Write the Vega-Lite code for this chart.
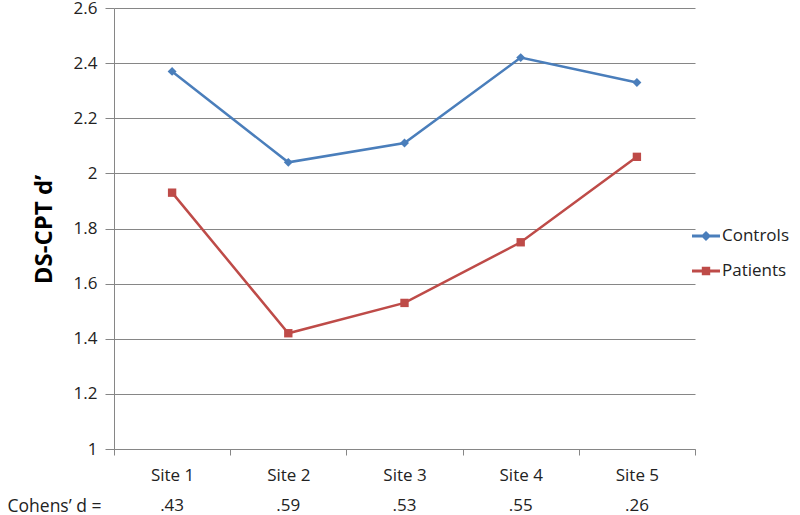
{
  "$schema": "https://vega.github.io/schema/vega-lite/v6.json",
  "autosize": {"type": "none"},
  "width": 581,
  "height": 441,
  "padding": {"left": 114, "top": 8, "right": 105, "bottom": 66},
  "background": "white",
  "config": {"view": {"stroke": null}, "font": "Open Sans"},
  "data": {"values": [
    {"site": "Site 1", "group": "Controls", "v": 2.37, "d": ".43"},
    {"site": "Site 2", "group": "Controls", "v": 2.04, "d": ".59"},
    {"site": "Site 3", "group": "Controls", "v": 2.11, "d": ".53"},
    {"site": "Site 4", "group": "Controls", "v": 2.42, "d": ".55"},
    {"site": "Site 5", "group": "Controls", "v": 2.33, "d": ".26"},
    {"site": "Site 1", "group": "Patients", "v": 1.93, "d": ".43"},
    {"site": "Site 2", "group": "Patients", "v": 1.42, "d": ".59"},
    {"site": "Site 3", "group": "Patients", "v": 1.53, "d": ".53"},
    {"site": "Site 4", "group": "Patients", "v": 1.75, "d": ".55"},
    {"site": "Site 5", "group": "Patients", "v": 2.06, "d": ".26"}
  ]},
  "encoding": {
    "x": {"field": "site", "type": "nominal", "scale": {"type": "band", "paddingInner": 0, "paddingOuter": 0},
      "axis": {"title": "Cohens\u2019 d =", "titleX": -60, "titleY": 57, "titleAlign": "center", "titleBaseline": "middle", "titleAnchor": null,
        "titleFont": "Open Sans", "titleFontSize": 17.5, "titleFontWeight": "normal", "titleColor": "#222",
        "labelAngle": 0, "labelFontSize": 17, "labelColor": "#222", "labelPadding": 12, "tickBand": "extent", "tickSize": 6,
        "tickColor": "#868686", "domainColor": "#868686", "grid": false}}
  },
  "layer": [
    {
      "mark": {"type": "line", "strokeWidth": 2.5},
      "encoding": {
        "y": {"field": "v", "type": "quantitative", "scale": {"domain": [1, 2.6], "nice": false, "zero": false},
          "axis": {"values": [1, 1.2, 1.4, 1.6, 1.8, 2, 2.2, 2.4, 2.6], "format": "~g", "title": "DS-CPT d\u2019",
            "titleFontSize": 24, "titleFontWeight": "bold", "titleColor": "#000", "titleAngle": -90, "titleX": -70, "titleY": 221,
            "titleAlign": "center", "titleBaseline": "middle",
            "labelFontSize": 17, "labelColor": "#222", "labelPadding": 8, "tickSize": 9, "tickColor": "#868686",
            "domainColor": "#868686", "gridColor": "#868686", "gridWidth": 1}},
        "color": {"field": "group", "type": "nominal", "scale": {"domain": ["Controls", "Patients"], "range": ["#4A7EBB", "#BE4B48"]},
          "legend": {"title": null, "orient": "none", "legendX": 578, "legendY": 214, "labelFontSize": 17, "labelColor": "#222",
            "symbolSize": 784, "rowPadding": 13, "labelOffset": 2, "padding": 0,
            "encode": {"symbols": {"update": {
              "shape": {"signal": "datum.value === 'Controls' ? 'M-1,-0.1H1V0.1H-1ZM-0.36,0L0,-0.36L0.36,0L0,0.36Z' : 'M-1,-0.1H1V0.1H-1ZM-0.3,-0.3H0.3V0.3H-0.3Z'"},
              "size": {"value": 784},
              "fill": {"signal": "datum.value === 'Controls' ? '#4A7EBB' : '#BE4B48'"},
              "stroke": {"value": "transparent"},
              "strokeWidth": {"value": 0}}}}}}
      }
    },
    {
      "transform": [{"filter": "datum.group === 'Controls'"}],
      "mark": {"type": "point", "filled": true, "opacity": 1, "shape": "diamond", "size": 80},
      "encoding": {
        "y": {"field": "v", "type": "quantitative"},
        "color": {"field": "group", "type": "nominal"}
      }
    },
    {
      "transform": [{"filter": "datum.group === 'Patients'"}],
      "mark": {"type": "point", "filled": true, "opacity": 1, "shape": "square", "size": 70},
      "encoding": {
        "y": {"field": "v", "type": "quantitative"},
        "color": {"field": "group", "type": "nominal"}
      }
    },
    {
      "mark": {"type": "text", "fontSize": 17, "color": "#222", "baseline": "middle", "yOffset": 57},
      "encoding": {
        "y": {"value": {"expr": "height"}},
        "text": {"field": "d"}
      },
      "transform": [{"filter": "datum.group === 'Controls'"}]
    }
  ]
}
